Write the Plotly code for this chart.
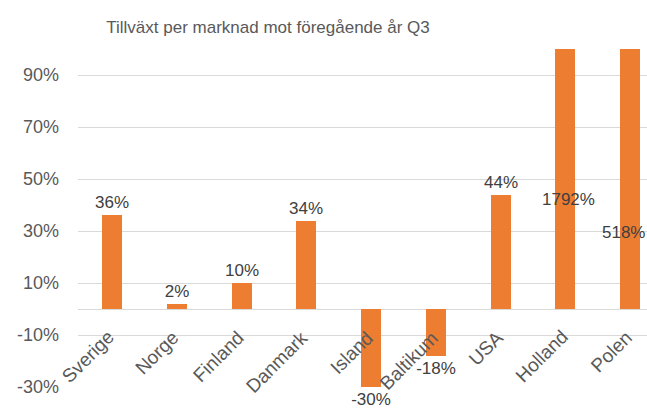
import plotly.graph_objects as go

categories = ["Sverige", "Norge", "Finland", "Danmark", "Island", "Baltikum", "USA", "Holland", "Polen"]
growth_pct = [36, 2, 10, 34, -30, -18, 44, 1792, 518]
tick_values = [-30, -10, 10, 30, 50, 70, 90]
tick_labels = ["-30%", "-10%", "10%", "30%", "50%", "70%", "90%"]

Y_MIN, Y_MAX = -30, 100
ORANGE = "#ED7D31"
GREY = "#595959"
DARK = "#404040"
FONT = "Liberation Sans"

in_range = [v <= Y_MAX for v in growth_pct]
labels = [f"{v}%" if ok else "" for v, ok in zip(growth_pct, in_range)]

fig = go.Figure()
fig.add_trace(go.Bar(
    x=categories, y=growth_pct,
    marker=dict(color=ORANGE, line=dict(width=0)),
    width=0.31,
    text=labels, textposition="outside", cliponaxis=False,
    constraintext="none",
    textfont=dict(family=FONT, size=17, color=DARK),
    hoverinfo="skip",
))

# labels for bars that overflow the axis maximum (Excel places them inside the visible bar)
overflow_label_y = {"Holland": 42, "Polen": 29.6}
overflow_label_dx = {"Holland": 3, "Polen": -7}
for c, v, ok in zip(categories, growth_pct, in_range):
    if not ok:
        fig.add_annotation(x=c, y=overflow_label_y[c], xref="x", yref="y",
                           text=f"{v}%", showarrow=False, xshift=overflow_label_dx[c],
                           font=dict(family=FONT, size=17, color=DARK))

# category labels next to the horizontal axis (which crosses at 0)
for c in categories:
    fig.add_annotation(x=c, y=0, xref="x", yref="y", text=c, showarrow=False,
                       textangle=-45, xanchor="right", yanchor="top",
                       xshift=9, yshift=-15,
                       font=dict(family=FONT, size=19, color=GREY))

fig.update_layout(
    width=647, height=417,
    paper_bgcolor="white", plot_bgcolor="white",
    margin=dict(l=78, r=0, t=49, b=30, autoexpand=False),
    showlegend=False,
    bargap=0,
    title=dict(text="Tillväxt per marknad mot föregående år Q3",
               x=268 / 647, xanchor="center", xref="container",
               y=1 - 27 / 417, yanchor="middle", yref="container",
               font=dict(family=FONT, size=17, color=GREY)),
    xaxis=dict(
        range=[-0.525, 8.26],
        showticklabels=False, showgrid=False, showline=False, ticks="",
        zeroline=False, automargin=False,
    ),
    yaxis=dict(
        range=[Y_MIN, Y_MAX],
        tickvals=tick_values, ticktext=tick_labels,
        showgrid=True, gridcolor="#D9D9D9", gridwidth=1,
        zeroline=True, zerolinecolor="#D9D9D9", zerolinewidth=1,
        showline=False, ticks="",
        tickfont=dict(family=FONT, size=18, color=GREY),
        ticklabelstandoff=18, automargin=False,
    ),
)

fig.write_html("out.html", config={"displayModeBar": False},
               post_script="document.body.style.margin='0';")
